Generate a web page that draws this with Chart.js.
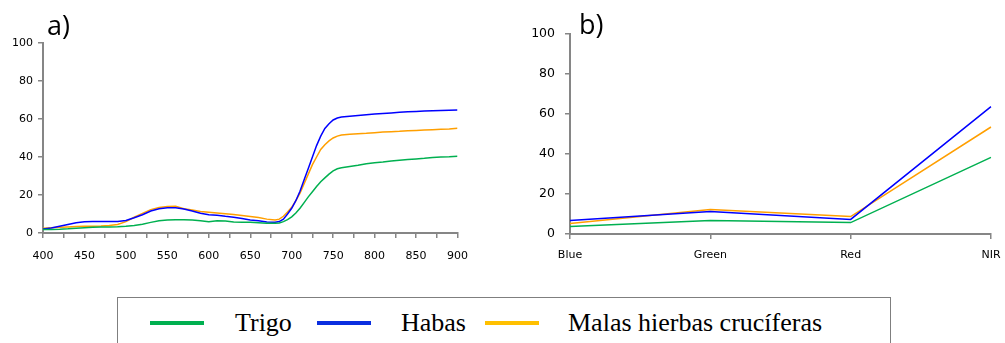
<!DOCTYPE html>
<html>
<head>
<meta charset="utf-8">
<script src="https://cdn.jsdelivr.net/npm/chart.js@4.4.1/dist/chart.umd.min.js"></script>
<style>
  body { margin: 0; background: #fff; width: 1005px; height: 343px; overflow: hidden; position: relative; }
  canvas { position: absolute; top: 0; }
  .panel-title { position: absolute; font-family: "Open Sans", sans-serif; font-size: 27px; line-height: 1; color: #000; }
  #legend { position: absolute; left: 117px; top: 297px; width: 774px; height: 60px; border: 1.5px solid #7f7f7f; box-sizing: border-box; }
  .leg-line { position: absolute; top: 23px; height: 4px; width: 54px; }
  .leg-text { position: absolute; top: 10px; font-family: "Liberation Serif", serif; font-size: 26px; line-height: 30px; color: #000; white-space: nowrap; }
</style>
</head>
<body>
<canvas id="chart-a" width="480" height="270" style="left:0"></canvas>
<canvas id="chart-b" width="515" height="270" style="left:490px"></canvas>
<div class="panel-title" style="left:47px;top:11px">a)</div>
<div class="panel-title" style="left:579px;top:10px">b)</div>
<div id="legend"></div>
<script>
// nombres de las series
const seriesNames = ['Trigo', 'Habas', 'Malas hierbas crucíferas'];
const lineColors = ['#00b050', '#0000ff', '#ff9f00'];
const legendColors = ['#00b050', '#0a2ee0', '#ffc000'];

// a) espectro de reflectancia (%), longitud de onda en nm
const wavelengths = [
  400, 410, 420, 430, 440, 450, 460, 470, 480, 490, 500, 510, 520, 530, 540, 550, 560, 570, 580, 590,
  600, 610, 620, 630, 640, 650, 660, 670, 680,
  685, 690, 695, 700, 705, 710, 715, 720, 725, 730, 735, 740, 745, 750, 755, 760,
  770, 780, 790, 800, 810, 820, 830, 840, 850, 860, 870, 880, 890, 900
];
const trigoSpectrum = [
  1.8, 1.9, 2.0, 2.2, 2.5, 2.8, 3.0, 3.1, 3.2, 3.3, 3.5, 3.9, 4.6, 5.6, 6.5, 6.9, 7.0, 7.0, 6.8, 6.4,
  5.9, 6.5, 6.3, 5.8, 5.7, 5.7, 5.4, 5.1, 5.1,
  5.3, 6.0, 7.0, 8.5, 10.5, 13, 16, 19, 21.7, 24.5, 27, 29, 31, 32.7, 33.8, 34.3,
  35, 35.7, 36.5, 37, 37.4, 37.9, 38.3, 38.7, 39, 39.3, 39.7, 40, 40.1, 40.4
];
const habasSpectrum = [
  2.1, 2.6, 3.6, 4.5, 5.4, 5.9, 6.0, 6.0, 6.0, 6.0, 6.6, 8.0, 9.6, 11.6, 12.8, 13.3, 13.3, 12.6, 11.6, 10.4,
  9.6, 9.4, 8.8, 8.3, 7.6, 6.9, 6.4, 5.8, 5.6,
  6.0, 7.3, 10, 13, 17, 22, 28, 34, 40, 46, 51, 55, 57.5, 59.5, 60.5, 61,
  61.5, 61.9, 62.3, 62.6, 62.9, 63.2, 63.5, 63.8, 64, 64.2, 64.4, 64.5, 64.6, 64.7
];
const malasSpectrum = [
  2.5, 2.8, 3.0, 3.2, 3.4, 3.5, 3.6, 3.7, 3.9, 4.5, 6.0, 8.3, 10.3, 12.3, 13.4, 14.0, 14.1, 12.8, 12.1, 11.3,
  10.9, 10.5, 10.1, 9.7, 9.2, 8.7, 8.1, 7.3, 6.9,
  7.3, 8.8, 11, 13.5, 17, 21, 26, 31, 36, 40, 44, 46.5, 48.5, 50, 51, 51.6,
  52, 52.3, 52.5, 52.8, 53.1, 53.3, 53.5, 53.8, 54, 54.2, 54.4, 54.6, 54.8, 55.1
];

// b) reflectancia por banda
const bands = ['Blue', 'Green', 'Red', 'NIR'];
const trigoBands = [3.7, 6.7, 5.7, 38.3];
const habasBands = [6.8, 11.2, 7.3, 63.7];
const malasBands = [5.2, 12.3, 8.7, 53.5];

const axisGray = '#868686';
const tickFont = { family: 'DejaVu Sans', size: 11 };

function axisStyle(extra) {
  return Object.assign({
    grid: { display: true, drawOnChartArea: false, drawTicks: true, tickLength: 5, color: axisGray, lineWidth: 1.5 },
    border: { display: true, color: axisGray, width: 2 }
  }, extra);
}

const baseOptions = {
  responsive: false,
  animation: false,
  devicePixelRatio: 1,
  plugins: { legend: { display: false }, tooltip: { enabled: false }, title: { display: false } },
  elements: { point: { radius: 0 }, line: { tension: 0, borderWidth: 1.5 } }
};

function initSpectrum() {
  const spectra = [trigoSpectrum, habasSpectrum, malasSpectrum];
  new Chart(document.getElementById('chart-a'), {
    type: 'line',
    data: {
      datasets: spectra.map((s, i) => ({
        label: seriesNames[i],
        data: wavelengths.map((w, j) => ({ x: w, y: s[j] })),
        borderColor: lineColors[i],
        fill: false
      }))
    },
    options: Object.assign({}, baseOptions, {
      layout: { padding: { top: 43, right: 19, left: 0, bottom: 0 } },
      scales: {
        x: axisStyle({
          type: 'linear', min: 400, max: 900,
          afterFit: s => { s.height = 37; },
          ticks: {
            stepSize: 25, autoSkip: false, maxRotation: 0, padding: 12,
            color: '#000', font: tickFont,
            callback: v => (v % 50 === 0 ? String(v) : '')
          }
        }),
        y: axisStyle({
          min: 0, max: 100,
          afterFit: s => { s.width = 43; },
          ticks: { stepSize: 20, padding: 5, color: '#000', font: tickFont }
        })
      }
    })
  });
}

function initBands() {
  const values = [trigoBands, habasBands, malasBands];
  new Chart(document.getElementById('chart-b'), {
    type: 'line',
    data: {
      labels: bands,
      datasets: values.map((s, i) => ({
        label: seriesNames[i],
        data: s,
        borderColor: lineColors[i],
        fill: false
      }))
    },
    options: Object.assign({}, baseOptions, {
      layout: { padding: { top: 34, right: 14, left: 0, bottom: 0 } },
      scales: {
        x: axisStyle({
          type: 'category', offset: false,
          afterFit: s => { s.height = 36; s.paddingRight = 0; s.paddingLeft = 0; },
          ticks: { autoSkip: false, maxRotation: 0, padding: 10, color: '#000', font: tickFont }
        }),
        y: axisStyle({
          min: 0, max: 100,
          afterFit: s => { s.width = 80; },
          ticks: { stepSize: 20, padding: 10, color: '#000', font: { family: 'DejaVu Sans', size: 12.5 } }
        })
      }
    })
  });
}

function initLegend() {
  const legend = document.getElementById('legend');
  const lineLeft = [32, 199, 367];
  const textLeft = [117, 283, 450];
  seriesNames.forEach((name, i) => {
    const line = document.createElement('div');
    line.className = 'leg-line';
    line.style.left = lineLeft[i] + 'px';
    line.style.background = legendColors[i];
    legend.appendChild(line);
    const text = document.createElement('div');
    text.className = 'leg-text';
    text.style.left = textLeft[i] + 'px';
    text.textContent = name;
    legend.appendChild(text);
  });
}

document.addEventListener('DOMContentLoaded', () => {
  initSpectrum();
  initBands();
  initLegend();
});
</script>
</body>
</html>
